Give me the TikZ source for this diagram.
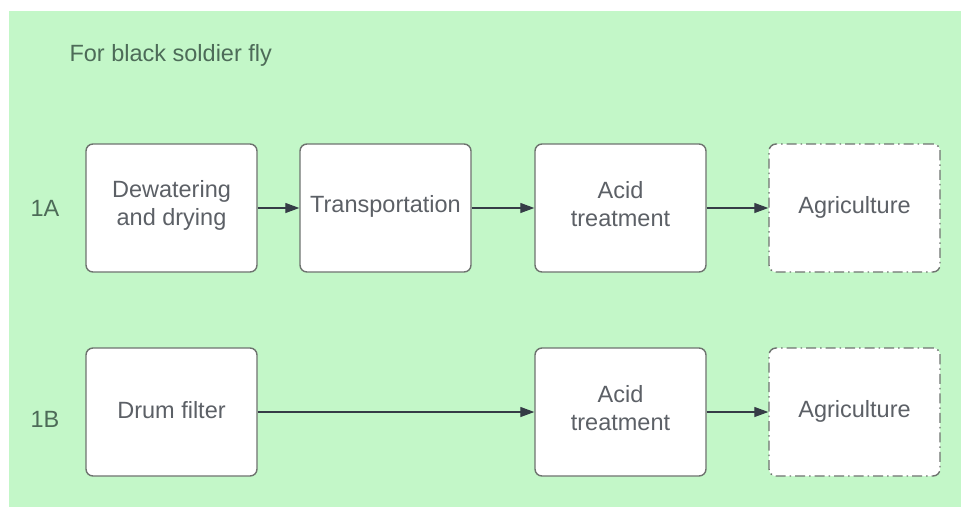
\documentclass[tikz,border=0pt]{standalone}
\usepackage{fontspec}
\setmainfont{Liberation Sans}
\usetikzlibrary{arrows.meta}
\definecolor{bggreen}{HTML}{C3F7C8}
\definecolor{boxline}{HTML}{6E736F}
\definecolor{boxtext}{HTML}{5C6066}
\definecolor{labeltext}{HTML}{4D6B58}
\definecolor{arrowcol}{HTML}{353C46}
\tikzset{
  stepbox/.style={draw=boxline, line width=1.4pt, fill=white, rounded corners=7pt,
    minimum width=171pt, minimum height=128pt, inner sep=0pt},
  endbox/.style={stepbox, dash pattern=on 10pt off 4pt on 1.5pt off 4pt},
  boxlabel/.style={align=center, text=boxtext, inner sep=0pt,
    font=\fontsize{23.5}{28}\selectfont},
  rowlabel/.style={text=labeltext, font=\fontsize{23.5}{28}\selectfont},
  flow/.style={draw=arrowcol, line width=1.2pt, -{Triangle[length=14pt,width=10pt]}}
}
\begin{document}
\begin{tikzpicture}[x=1pt,y=-1pt]
  \useasboundingbox (0,0) rectangle (961,507);
  \fill[bggreen] (9,11) rectangle (961,507);

  \node[anchor=west, text=labeltext, font=\fontsize{23.5}{28}\selectfont] (title) at (66,55) {For black soldier fly};

  \node[rowlabel] (l1a) at (45,208) {1A};
  \node[rowlabel] (l1b) at (45,419) {1B};

  % Route 1A
  \node[stepbox] (dew) at (171.5,208) {};
  \node[stepbox] (trans) at (385.5,208) {};
  \node[stepbox] (acida) at (620.5,208) {};
  \node[endbox] (agra) at (854.5,208) {};

  % Route 1B
  \node[stepbox] (drum) at (171.5,412) {};
  \node[stepbox] (acidb) at (620.5,412) {};
  \node[endbox] (agrb) at (854.5,412) {};

  % Box texts
  \node[boxlabel] (dewtxt) at ([yshift=3pt]dew.center) {Dewatering\\and drying};
  \node[boxlabel] (transtxt) at ([yshift=1.5pt]trans.center) {Transportation};
  \node[boxlabel] (acidatxt) at ([yshift=3.5pt]acida.center) {Acid\\treatment};
  \node[boxlabel] (agratxt) at ([yshift=1pt]agra.center) {Agriculture};
  \node[boxlabel] (drumtxt) at ([yshift=2pt]drum.center) {Drum filter};
  \node[boxlabel] (acidbtxt) at ([yshift=3.5pt]acidb.center) {Acid\\treatment};
  \node[boxlabel] (agrbtxt) at ([yshift=1pt]agrb.center) {Agriculture};

  \draw[flow] (dew) -- (trans);
  \draw[flow] (trans) -- (acida);
  \draw[flow] (acida) -- (agra);
  \draw[flow] (drum) -- (acidb);
  \draw[flow] (acidb) -- (agrb);
\end{tikzpicture}
\end{document}
